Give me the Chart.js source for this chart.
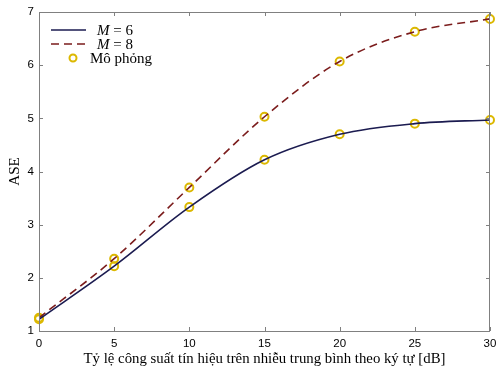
<!DOCTYPE html>
<html>
<head>
<meta charset="utf-8">
<script src="https://cdn.jsdelivr.net/npm/chart.js@4/dist/chart.umd.min.js"></script>
<style>
  html, body { margin: 0; padding: 0; background: #fff; }
  #wrap { width: 496px; height: 369px; }
</style>
</head>
<body>
<div id="wrap"><canvas id="Ase"></canvas></div>
<script>
const snr = [0, 5, 10, 15, 20, 25, 30];
const aseM6 = [1.22, 2.22, 3.33, 4.22, 4.70, 4.90, 4.97];
const aseM8 = [1.25, 2.36, 3.70, 5.03, 6.07, 6.63, 6.87];
const xTicks = [0, 5, 10, 15, 20, 25, 30];
const yTicks = [1, 2, 3, 4, 5, 6, 7];
const xTitle = 'Tỷ lệ công suất tín hiệu trên nhiễu trung bình theo ký tự [dB]';
const yTitle = 'ASE';

const ctx = document.getElementById('Ase');
const lineM6 = '#1b1b50';
const lineM8 = '#7b1c1c';
const simColor = '#dcb800';

const toPts = (xs, ys) => xs.map((x, i) => ({ x: x, y: ys[i] }));

// MATLAB-like box, inward ticks, titles and legend
const matlabLook = {
    id: 'matlabLook',
    afterDraw(chart) {
        const c = chart.ctx;
        const a = chart.chartArea;
        const xs = chart.scales.x, ys = chart.scales.y;
        c.save();
        c.strokeStyle = '#808080';
        c.lineWidth = 1;
        c.strokeRect(a.left + 0.5, a.top + 0.5, a.right - a.left - 1, a.bottom - a.top);
        c.beginPath();
        xTicks.forEach(v => {
            const px = Math.round(xs.getPixelForValue(v)) + 0.5;
            c.moveTo(px, a.bottom); c.lineTo(px, a.bottom - 4);
            c.moveTo(px, a.top); c.lineTo(px, a.top + 4);
        });
        yTicks.forEach(v => {
            const py = Math.round(ys.getPixelForValue(v)) + 0.5;
            c.moveTo(a.left, py); c.lineTo(a.left + 4, py);
            c.moveTo(a.right, py); c.lineTo(a.right - 4, py);
        });
        c.stroke();

        // axis titles
        c.fillStyle = '#000';
        c.font = '14.8px "Liberation Serif"';
        c.textAlign = 'center';
        c.textBaseline = 'alphabetic';
        c.fillText(xTitle, (a.left + a.right) / 2, 363);
        c.save();
        c.translate(19, (a.top + a.bottom) / 2);
        c.rotate(-Math.PI / 2);
        c.font = '15px "Liberation Serif"';
        c.fillText(yTitle, 0, 0);
        c.restore();

        // legend
        const ds = chart.data.datasets;
        const lx = 51, lx2 = 86, tx = 97;
        const rows = [30, 44, 58];
        c.textAlign = 'left';
        c.textBaseline = 'middle';
        c.lineWidth = 1.6;
        c.strokeStyle = lineM6;
        c.beginPath(); c.moveTo(lx, rows[0]); c.lineTo(lx2, rows[0]); c.stroke();
        c.strokeStyle = lineM8;
        c.setLineDash([8, 5]);
        c.beginPath(); c.moveTo(lx, rows[1]); c.lineTo(lx2, rows[1]); c.stroke();
        c.setLineDash([]);
        c.strokeStyle = simColor;
        c.lineWidth = 2;
        c.beginPath(); c.arc(73, rows[2], 3.5, 0, Math.PI * 2); c.stroke();
        [ds[0], ds[1]].forEach((d, i) => {
            c.font = 'italic 15px "Liberation Serif"';
            c.fillText('M', tx, rows[i] + 1);
            const w = c.measureText('M').width;
            c.font = '15px "Liberation Serif"';
            c.fillText(d.label.replace('M', ''), tx + w, rows[i] + 1);
        });
        c.fillText(ds[2].label, 90, rows[2] + 1);
        c.restore();
    }
};

new Chart(ctx, {
    type: 'scatter',
    data: {
        datasets: [{
            label: 'M = 6',
            data: toPts(snr, aseM6),
            showLine: true,
            borderColor: lineM6,
            borderWidth: 1.6,
            pointRadius: 0,
            cubicInterpolationMode: 'monotone'
        }, {
            label: 'M = 8',
            data: toPts(snr, aseM8),
            showLine: true,
            borderColor: lineM8,
            borderWidth: 1.6,
            borderDash: [8, 5],
            pointRadius: 0,
            cubicInterpolationMode: 'monotone'
        }, {
            label: 'Mô phỏng',
            data: toPts(snr, aseM6).concat(toPts(snr, aseM8)),
            showLine: false,
            clip: false,
            pointRadius: 4,
            pointBorderWidth: 2,
            pointBorderColor: simColor,
            pointBackgroundColor: 'rgba(0,0,0,0)'
        }]
    },
    options: {
        responsive: true,
        maintainAspectRatio: false,
        animation: false,
        layout: { padding: { top: 12, right: 2, left: 0, bottom: 0 } },
        plugins: { legend: { display: false }, tooltip: { enabled: false } },
        scales: {
            x: {
                type: 'linear',
                min: 0, max: 30,
                afterFit: s => { s.height = 38; s.paddingRight = 0; s.paddingLeft = 0; },
                afterBuildTicks: s => { s.ticks = xTicks.map(v => ({ value: v })); },
                grid: { display: false, drawTicks: false },
                border: { display: false },
                ticks: { padding: 6, color: '#000', font: { family: 'Liberation Sans', size: 11.5 } }
            },
            y: {
                type: 'linear',
                min: 1, max: 7,
                afterFit: s => { s.width = 39; s.paddingTop = 0; s.paddingBottom = 0; },
                afterBuildTicks: s => { s.ticks = yTicks.map(v => ({ value: v })); },
                grid: { display: false, drawTicks: false },
                border: { display: false },
                ticks: { padding: 5, color: '#000', font: { family: 'Liberation Sans', size: 11.5 } }
            }
        }
    },
    plugins: [matlabLook]
});
</script>
</body>
</html>
